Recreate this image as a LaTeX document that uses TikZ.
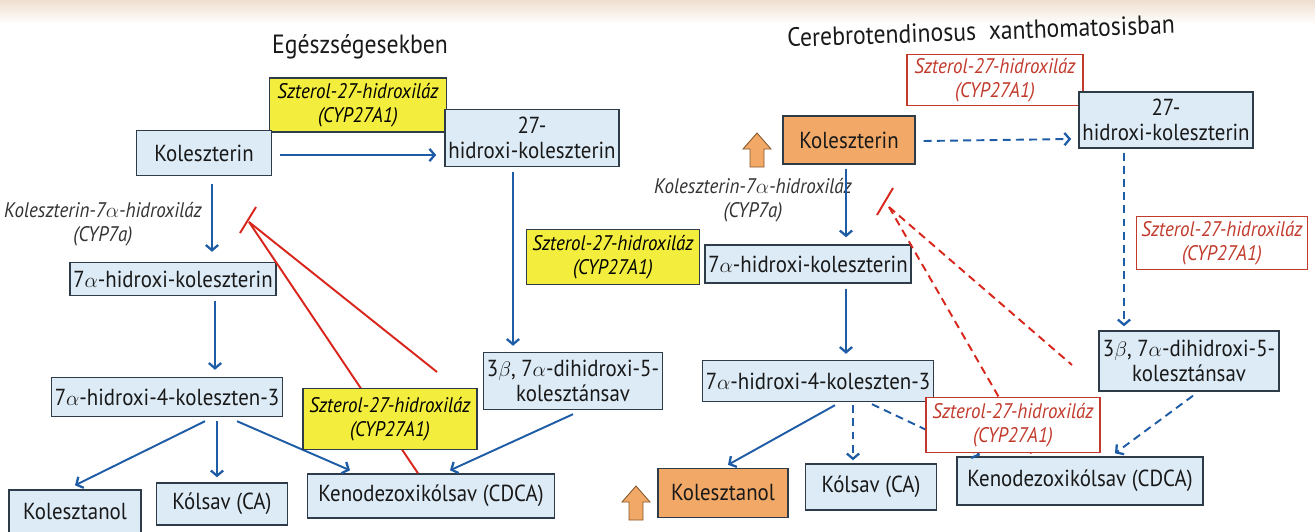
\documentclass[tikz,border=0pt]{standalone}
\usepackage{fontspec}
\setmainfont{PT Sans}[FakeStretch=0.9]
\usepackage{tikz}
\usetikzlibrary{arrows.meta,calc}

\definecolor{boxfill}{HTML}{DCEBF6}
\definecolor{boxline}{HTML}{2E3B48}
\definecolor{enzyellow}{HTML}{F3EE3E}
\definecolor{cholorange}{HTML}{F2A967}
\definecolor{pathblue}{HTML}{1F5CA6}
\definecolor{inhred}{HTML}{D8261C}
\definecolor{enzred}{HTML}{C23A2C}

\newcommand{\uparr}[1]{%
	\filldraw[upbig] ($(#1)+(0,-17)$) -- ($(#1)+(14,-1)$) -- ($(#1)+(7,-1)$) -- ($(#1)+(7,17)$)
		-- ($(#1)+(-7,17)$) -- ($(#1)+(-7,-1)$) -- ($(#1)+(-14,-1)$) -- cycle;}

\begin{document}
\begin{tikzpicture}[x=0.02cm,y=-0.02cm,
	box/.style={draw=boxline,line width=0.8pt,fill=boxfill,text=black!90,align=center,inner sep=2pt,font=\fontsize{13.2}{14.5}\selectfont},
	hibox/.style={box,fill=cholorange},
	enz/.style={draw=boxline,line width=0.7pt,fill=enzyellow,align=center,inner sep=2pt,font=\fontsize{12}{13.5}\selectfont\itshape},
	enzmiss/.style={draw=enzred,line width=0.7pt,fill=white,text=enzred,align=center,inner sep=2pt,font=\fontsize{12}{13.5}\selectfont\itshape},
	lbl/.style={align=center,text=black!80,font=\fontsize{12}{13.5}\selectfont\itshape},
	ttl/.style={font=\fontsize{15}{18}\selectfont,text=black!90},
	arr/.style={pathblue,line width=1.1pt,-{Straight Barb[length=3pt,width=7pt,line width=1.3pt]}},
	darr/.style={arr,dash pattern=on 4.5pt off 3pt},
	inh/.style={inhred,line width=1.1pt},
	dinh/.style={inh,dash pattern=on 4.5pt off 3pt},
	upbig/.style={draw=brown!70!black,line width=0.5pt,fill=cholorange,line join=miter}]
	\useasboundingbox (0,0) rectangle (1315,531);
	\fill[top color=brown!25!white,bottom color=white] (0,0) rectangle (1315,24);

	\node[ttl] (tL) at (360,47) {Egészségesekben};
	\node[ttl,rotate=2] (tR) at (981,31) {Cerebrotendinosus~~xanthomatosisban};

	\node[enz,minimum width=3.54cm,minimum height=1.08cm] (e1) at (358,105) {Szterol-27-hidroxiláz\\(CYP27A1)};
	\node[box,minimum width=2.7cm,minimum height=0.9cm] (kolL) at (204,153) {Koleszterin};
	\node[box,minimum width=3.2cm,minimum height=1.14cm] (hkL) at (532,138) {27-\\hidroxi-koleszterin};
	\node[lbl] (lbL) at (103,224) {Koleszterin-7$\alpha$-hidroxiláz\\(CYP7a)};
	\node[box,minimum width=3.94cm,minimum height=0.66cm] (h7L) at (173,279) {7$\alpha$-hidroxi-koleszterin};
	\node[enz,minimum width=3.46cm,minimum height=1.1cm] (e2) at (613,257) {Szterol-27-hidroxiláz\\(CYP27A1)};
	\node[box,minimum width=3.46cm,minimum height=1.14cm] (dhL) at (573,381) {3$\beta$, 7$\alpha$-dihidroxi-5-\\kolesztánsav};
	\node[box,minimum width=4.42cm,minimum height=0.78cm] (h4L) at (167,397) {7$\alpha$-hidroxi-4-koleszten-3};
	\node[box,minimum width=2.64cm,minimum height=0.88cm] (kstL) at (75,512) {Kolesztanol};
	\node[box,minimum width=2.62cm,minimum height=0.84cm] (caL) at (222,504) {Kólsav (CA)};
	\node[box,minimum width=4.94cm,minimum height=0.88cm] (cdcaL) at (431,496) {Kenodezoxikólsav (CDCA)};

	\draw[arr] ($(kolL.east)+(8,2)$) -- ($(hkL.west)+(-8,17)$);
	\draw[arr] ($(kolL.south)+(8,8)$) -- ($(h7L.north)+(39,-10)$);
	\draw[arr] ($(h7L.south)+(42,5)$) -- ($(h4L.north)+(48,-7)$);
	\draw[arr] ($(h4L.south)+(38,4)$) -- ($(kstL.north)+(0,-4)$);
	\draw[arr] ($(h4L.south)+(50,4)$) -- ($(caL.north)+(-5,-5)$);
	\draw[arr] ($(h4L.south)+(70,4)$) -- ($(cdcaL.north)+(-81,-3)$);
	\draw[arr] ($(hkL.south)+(-19,5)$) -- ($(dhL.north)+(-60,-6)$);
	\draw[arr] ($(dhL.south)+(0,4)$) -- ($(cdcaL.north)+(19,-3)$);

	\coordinate (iL) at (249,222);
	\coordinate (iLend) at (437,372);
	\draw[inh] ($(iL)+(-9,11)$) -- ($(iL)+(7,-15)$);
	\draw[inh] (iL) -- (iLend);
	\draw[inh] (iL) -- ($(cdcaL.north)+(-13,0)$);
	\node[enz,minimum width=3.48cm,minimum height=1.22cm] (e3) at (390,419) {Szterol-27-hidroxiláz\\(CYP27A1)};

	\node[enzmiss,minimum width=3.52cm,minimum height=1.0cm] (e4) at (995,80) {Szterol-27-hidroxiláz\\(CYP27A1)};
	\node[hibox,minimum width=2.64cm,minimum height=0.96cm] (kolR) at (849,140) {Koleszterin};
	\coordinate (upA) at (757,150);
	\uparr{upA}
	\node[box,minimum width=3.24cm,minimum height=1.12cm] (hkR) at (1166,120) {27-\\hidroxi-koleszterin};
	\node[lbl] (lbR) at (753,200) {Koleszterin-7$\alpha$-hidroxiláz\\(CYP7a)};
	\node[box,minimum width=3.86cm,minimum height=0.76cm] (h7R) at (808,264) {7$\alpha$-hidroxi-koleszterin};
	\node[enzmiss,minimum width=3.42cm,minimum height=1.06cm] (e5) at (1222,243) {Szterol-27-hidroxiláz\\(CYP27A1)};
	\node[box,minimum width=3.6cm,minimum height=1.2cm] (dhR) at (1189,361) {3$\beta$, 7$\alpha$-dihidroxi-5-\\kolesztánsav};
	\node[box,minimum width=4.46cm,minimum height=0.82cm] (h4R) at (818,381) {7$\alpha$-hidroxi-4-koleszten-3};
	\node[hibox,minimum width=2.6cm,minimum height=0.98cm] (kstR) at (723,493) {Kolesztanol};
	\coordinate (upB) at (636,503);
	\uparr{upB}
	\node[box,minimum width=2.62cm,minimum height=0.92cm] (caR) at (871,487) {Kólsav (CA)};
	\node[box,minimum width=4.92cm,minimum height=0.96cm] (cdcaR) at (1080,481) {Kenodezoxikólsav (CDCA)};

	\draw[darr] ($(kolR.east)+(8,1)$) -- ($(hkR.west)+(-7,19)$);
	\draw[arr] ($(kolR.south)+(-3,4)$) -- ($(h7R.north)+(38,-7)$);
	\draw[arr] ($(h7R.south)+(38,5)$) -- ($(h4R.north)+(28,-6)$);
	\draw[arr] ($(h4R.south)+(17,3)$) -- ($(kstR.north)+(5,-3)$);
	\draw[darr] ($(h4R.south)+(35,3)$) -- ($(caR.north)+(-18,-3)$);
	\draw[darr] ($(h4R.south)+(54,2)$) -- ($(cdcaR.north)+(-100,-1)$);
	\draw[darr] ($(hkR.south)+(-42,4)$) -- ($(dhR.north)+(-65,-4)$);
	\draw[darr] ($(dhR.south)+(4,4)$) -- ($(cdcaR.north)+(35,-3)$);

	\coordinate (iR) at (889,207);
	\coordinate (iRend) at (1072,365);
	\draw[inh] ($(iR)+(-12,8)$) -- ($(iR)+(4,-19)$);
	\draw[dinh] (iR) -- (iRend);
	\draw[dinh] (iR) -- ($(cdcaR.north)+(-47,0)$);
	\node[enzmiss,minimum width=3.48cm,minimum height=1.1cm] (e6) at (1013,425) {Szterol-27-hidroxiláz\\(CYP27A1)};
\end{tikzpicture}
\end{document}
